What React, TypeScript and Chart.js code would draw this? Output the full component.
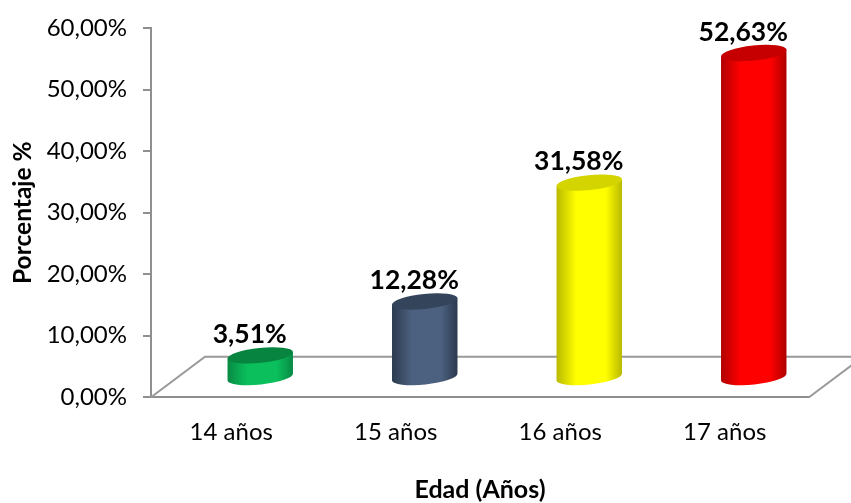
import React, { useEffect, useRef } from "react";
import { Chart, registerables } from "chart.js";

Chart.register(...registerables);

const categories = ["14 años", "15 años", "16 años", "17 años"];
const values = [3.51, 12.28, 31.58, 52.63];
const valueLabels = ["3,51%", "12,28%", "31,58%", "52,63%"];
const bodyColors = ["#0abf5c", "#4c617f", "#ffff00", "#ff0000"];
const edgeColors = ["#088a44", "#2b394d", "#b9b900", "#b00000"];
const capColors = ["#07843f", "#34445a", "#d4d400", "#c60000"];

const GREY = "#8f8f8f";
const FONT = "Lato, Carlito, Calibri, sans-serif";
const DEPTH_X = 54;
const DEPTH_Y = 40.6;
const TILT = (-6 * Math.PI) / 180;

const cylinderPlugin = {
  id: "cylinder3d",
  beforeDatasetsDraw(chart: any) {
    const { ctx, chartArea } = chart;
    const { left, right, bottom } = chartArea;
    ctx.save();
    ctx.strokeStyle = "#999999";
    ctx.lineWidth = 2;
    ctx.beginPath();
    ctx.moveTo(left, bottom);
    ctx.lineTo(left + DEPTH_X, bottom - DEPTH_Y);
    ctx.lineTo(right + DEPTH_X, bottom - DEPTH_Y);
    ctx.lineTo(right, bottom);
    ctx.stroke();
    ctx.restore();
  },
  beforeDatasetDraw(chart: any, args: any) {
    const { ctx } = chart;
    const meta = args.meta;
    const baseY = chart.scales.y.getPixelForValue(0) - DEPTH_Y / 2;
    meta.data.forEach((bar: any, i: number) => {
      const cx = bar.x + DEPTH_X / 2;
      const topY = bar.y - DEPTH_Y / 2;
      const rx = bar.width / 2;
      const ry = 7.5;
      const dx = rx * Math.cos(TILT);
      const dy = rx * Math.sin(TILT);
      ctx.save();
      const grad = ctx.createLinearGradient(cx - dx, 0, cx + dx, 0);
      grad.addColorStop(0, edgeColors[i]);
      grad.addColorStop(0.3, bodyColors[i]);
      grad.addColorStop(0.75, bodyColors[i]);
      grad.addColorStop(1, edgeColors[i]);
      ctx.fillStyle = grad;
      ctx.beginPath();
      ctx.moveTo(cx - dx, topY - dy);
      ctx.lineTo(cx - dx, baseY - dy);
      ctx.ellipse(cx, baseY, rx, ry, TILT, Math.PI, 0, true);
      ctx.lineTo(cx + dx, topY + dy);
      ctx.closePath();
      ctx.fill();
      ctx.fillStyle = capColors[i];
      ctx.beginPath();
      ctx.ellipse(cx, topY, rx, ry, TILT, 0, Math.PI * 2);
      ctx.fill();
      ctx.fillStyle = "#000000";
      ctx.font = `bold 26.5px ${FONT}`;
      ctx.textAlign = "center";
      ctx.textBaseline = "middle";
      ctx.fillText(valueLabels[i], cx - 10.5, topY - 21);
      ctx.restore();
    });
    return false;
  },
};

export default function App() {
  const ref = useRef<HTMLCanvasElement>(null);
  useEffect(() => {
    document.body.style.margin = "0";
    const chart = new Chart(ref.current as HTMLCanvasElement, {
      type: "bar",
      plugins: [cylinderPlugin],
      data: {
        labels: categories,
        datasets: [
          {
            data: values,
            backgroundColor: bodyColors,
            barPercentage: 0.4,
            categoryPercentage: 1,
          },
        ],
      },
      options: {
        responsive: false,
        animation: false,
        layout: { padding: { top: 27, right: 42, left: 0, bottom: 0 } },
        plugins: { legend: { display: false }, tooltip: { enabled: false } },
        scales: {
          x: {
            grid: { display: false, drawTicks: false },
            border: { color: GREY, width: 2 },
            afterFit(s: any) {
              s.height = 503 - 397.3 - 0;
            },
            ticks: {
              color: "#000000",
              padding: 21,
              labelOffset: -2,
              maxRotation: 0,
              font: { family: FONT, size: 24 },
            },
            title: {
              display: true,
              text: "Edad (Años)",
              color: "#000000",
              font: { family: FONT, size: 25, weight: "bold" },
              padding: { top: 0, bottom: -2 },
            },
          },
          y: {
            min: 0,
            max: 60,
            afterFit(s: any) {
              s.width = 151;
            },
            grid: { drawOnChartArea: false, drawTicks: true, tickLength: 8, color: GREY, lineWidth: 2 },
            border: { color: GREY, width: 2 },
            ticks: {
              stepSize: 10,
              color: "#000000",
              padding: 16,
              font: { family: FONT, size: 24, lineHeight: 1 },
              callback: (v: any) => Number(v).toFixed(2).replace(".", ",") + "%",
            },
            title: {
              display: true,
              text: "Porcentaje %",
              color: "#000000",
              font: { family: FONT, size: 24.5, weight: "bold" },
              padding: { top: 8, bottom: 0 },
            },
          },
        },
      },
    } as any);
    return () => chart.destroy();
  }, []);
  return <canvas ref={ref} width={851} height={503} style={{ display: "block" }} />;
}
